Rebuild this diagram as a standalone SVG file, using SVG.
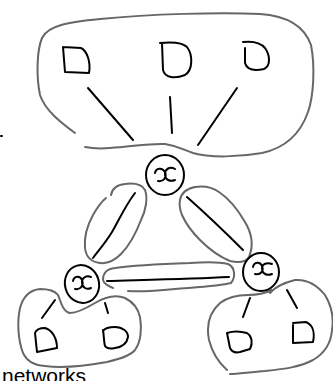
<svg xmlns="http://www.w3.org/2000/svg" width="333" height="381" viewBox="0 0 333 381">
<style>
.hull{fill:none;stroke:#676767;stroke-width:2;stroke-linecap:round;stroke-linejoin:round}
.ink{fill:none;stroke:#000;stroke-width:2;stroke-linecap:round;stroke-linejoin:round}
.lbl{font-family:"Liberation Sans",Arial,sans-serif;font-size:21px;fill:#000}
</style>
<rect width="333" height="381" fill="#fff"/>
<g id="hulls">
<path id="top-hull" class="hull" d="M75,133 C60,122 45,110 40,95 C36,75 37,50 42,38 C48,25 70,22 100,19 C150,14 220,12 260,14 C290,16 305,28 311,45 C315,65 314,95 308,112 C300,135 285,148 262,153 C240,157 210,158 193,153 C182,149 178,146 165,144 C150,143 130,147 110,148 C98,149 90,148 85,147"/>
<path id="left-edge-hull" class="hull" d="M111,195 C112,189 116,185 125,184 C133,183 141,183 145,190 C148,198 146,210 141,220 C136,233 130,245 121,254 C115,260 108,264 100,263 C92,262 86,257 85,248 C84,238 87,226 93,215 C97,208 101,202 106,198"/>
<path id="right-edge-hull" class="hull" d="M180,200 C181,194 185,189 195,187 C203,186 212,187 219,192 C228,198 238,210 245,222 C251,232 254,245 249,257 C245,263 238,263 230,261 C220,257 210,250 200,240 C192,232 186,224 182,215 C180,210 179,205 180,200"/>
<path id="bottom-edge-hull" class="hull" d="M103,280 C103,273 106,269 115,268 C135,265 160,264 190,263 C205,262 220,262 228,264 C235,267 236,277 231,283 C220,286 200,287 175,289 C155,291 140,292 128,291 M113,288 C108,286 104,284 103,280"/>
<path id="left-hull" class="hull" d="M58,295 C55,291 50,289 40,289 C30,290 23,297 20,308 C17,322 18,340 23,353 C27,361 33,365 45,366 C60,368 85,366 107,362 C120,359 130,356 135,350 C141,342 142,328 140,317 C138,308 133,302 125,298 C115,294 105,297 95,303 C85,309 77,313 70,313 C63,312 61,302 58,295"/>
<path id="right-hull" class="hull" d="M270,293 C275,287 283,283 295,280 C307,279 317,285 325,295 C331,305 334,318 332,330 C331,343 325,353 313,360 C300,367 285,369 265,371 C250,372 238,374 230,374 M227,370 C218,362 212,352 209,340 C206,325 210,312 220,303 C228,297 238,295 248,295 C258,295 266,293 272,290"/>
</g>
<g id="connectors">
<path class="ink" d="M88,88 L133,140"/>
<path class="ink" d="M170,97 L172,133"/>
<path class="ink" d="M237,88 L198,145"/>
<path class="ink" d="M135,193 C125,206 118,222 112,232 C106,242 99,250 93,258"/>
<path class="ink" d="M187,197 C205,213 228,235 243,250"/>
<path class="ink" d="M107,281 C140,280 190,279 229,277"/>
<path class="ink" d="M55,300 L42,318"/>
<path class="ink" d="M105,303 L108,313"/>
<path class="ink" d="M250,298 L243,317"/>
<path class="ink" d="M287,290 L297,308"/>
</g>
<g id="d-top-1"><path class="ink" d="M63,47 L65,72 L89,73 C91,62 87,51 81,48 L63,47"/></g>
<g id="d-top-2"><path class="ink" d="M162,43 L163,70 C165,78 175,79 185,75 C193,70 193,55 187,47 C182,42 170,42 160,43"/></g>
<g id="d-top-3"><path class="ink" d="M245,48 L245,63 C247,70 255,71 264,69 C271,66 270,55 265,48 C260,42 252,41 243,42"/></g>
<g id="x-top">
<ellipse class="ink" cx="165" cy="175" rx="19" ry="20"/>
<path class="ink" d="M155,173 C156,168 162,167 165,172 C167,177 164,182 158,181 M175,169 C170,166 165,169 165,174 C165,180 170,182 175,180"/>
</g>
<g id="x-left">
<ellipse class="ink" cx="82" cy="284" rx="17" ry="19" transform="rotate(-15 82 284)"/>
<path class="ink" d="M73,281 C74,276 80,275 82,280 C84,285 81,290 75,289 M91,277 C86,275 82,278 82,282 C82,288 87,290 91,288"/>
</g>
<g id="x-right">
<ellipse class="ink" cx="261" cy="272" rx="18" ry="19"/>
<path class="ink" d="M253,267 C254,262 260,261 262,266 C264,271 261,275 255,274 M272,264 C267,262 262,264 262,268 C262,274 267,276 272,274"/>
</g>
<g id="d-left-1"><path class="ink" d="M35,333 L37,352 L57,348 C57,338 52,330 45,328 C40,328 36,330 35,333"/></g>
<g id="d-left-2"><path class="ink" d="M103,330 C104,336 104,343 105,346 C107,349 111,349 115,348 C122,347 127,343 128,337 C128,331 122,327 115,327 C110,327 105,328 103,331"/></g>
<g id="d-right-1"><path class="ink" d="M227,333 L230,348 C232,352 236,353 240,352 L250,349 C253,343 252,336 247,333 C240,331 233,331 227,333"/></g>
<g id="d-right-2"><path class="ink" d="M293,325 L293,343 L313,342 C315,333 313,325 306,322 L293,323"/></g>
<path class="ink" d="M1,136 L2,136" stroke-width="1.5"/>
<text class="lbl" x="2" y="383">networks</text>
</svg>
